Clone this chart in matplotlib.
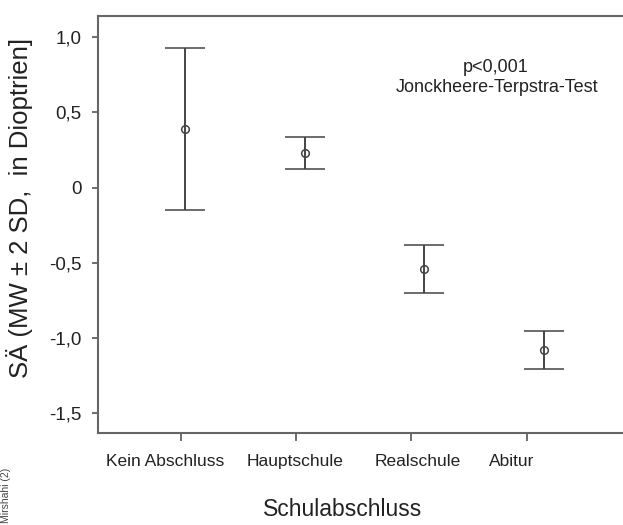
import numpy as np
import matplotlib
matplotlib.use("Agg")
import matplotlib.pyplot as plt

# Daten
categories = ["Kein Abschluss", "Hauptschule", "Realschule", "Abitur"]
mean_values = [0.39, 0.23, -0.54, -1.08]
two_sd = [0.54, 0.105, 0.157, 0.127]
y_ticks = [1.0, 0.5, 0.0, -0.5, -1.0, -1.5]
y_ticklabels = ["1,0", "0,5", "0", "-0,5", "-1,0", "-1,5"]

plt.rcParams['font.family'] = ['Liberation Sans', 'DejaVu Sans']

fig = plt.figure(figsize=(6.23, 5.25), dpi=100)
ax_w = 0.86
ax = fig.add_axes([98 / 623, 92 / 525, ax_w, 417 / 525])

x = np.arange(len(categories))
line_col = "#444444"
ax.errorbar(x, mean_values, yerr=two_sd, fmt="o", color=line_col,
            mfc="none", mec=line_col, ms=5.5, mew=1.1,
            elinewidth=1.4, capsize=14.5, capthick=1.4)

# Achsen
ax.set_xlim(-0.727, -0.727 + ax_w * 623 / 119.7)
ax.set_ylim(-1.63, 1.14)
ax.set_yticks(y_ticks)
ax.set_yticklabels(y_ticklabels)

# Striche unter den Kategorien (etwas versetzt wie im Original)
tick_pos = [-0.033, 0.927, 1.888, 2.857]
label_pos = [-0.167, 0.919, 1.946, 2.732]
ax.set_xticks(tick_pos)
ax.set_xticklabels([])
ax.set_xticks(label_pos, minor=True)
ax.set_xticklabels(categories, minor=True)
ax.tick_params(axis="x", which="major", length=6, width=1.2, color="#555555")
ax.tick_params(axis="x", which="minor", length=0, pad=15, labelsize=12.5, labelcolor="#222222")
ax.tick_params(axis="y", length=4, width=1.2, color="#555555", pad=8,
               labelsize=13.5, labelcolor="#222222")

for side in ["left", "bottom", "top"]:
    ax.spines[side].set_color("#666666")
    ax.spines[side].set_linewidth(1.5)
ax.spines["right"].set_visible(False)

ax.set_ylabel("SÄ (MW ± 2 SD,  in Dioptrien]", fontsize=18.5, color="#222222")
ax.yaxis.set_label_coords((33 - 98) / (ax_w * 623), (525 - 208 - 92) / 417)

fig.text(343 / 623, 1 - 510 / 525, "Schulabschluss", fontsize=16.5,
         color="#222222", ha="center", va="center")

fig.text(496 / 623, 1 - 67 / 525, "p<0,001", fontsize=13, color="#222222",
         ha="center", va="center")
fig.text(497 / 623, 1 - 87 / 525, "Jonckheere-Terpstra-Test", fontsize=13,
         color="#222222", ha="center", va="center")

fig.text(6 / 623, 1 - 468 / 525, "Mirshahi (2)", fontsize=7.5, color="#444444",
         rotation=90, ha="center", va="top")

fig.savefig("out.png", dpi=100)
plt.close(fig)
